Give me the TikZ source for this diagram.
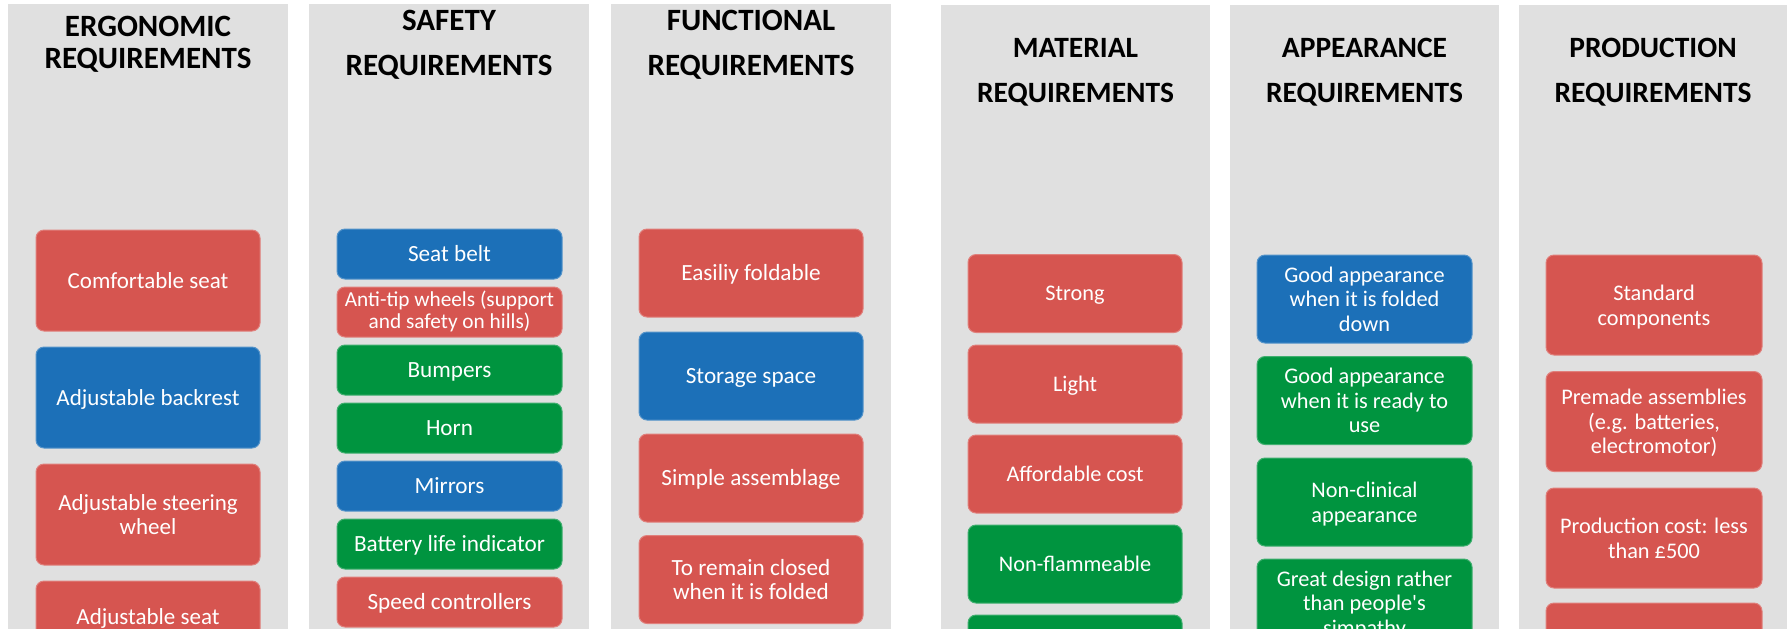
\documentclass[tikz,border=0pt]{standalone}
\usepackage{fontspec}
\setmainfont{Carlito}
\definecolor{panelgray}{RGB}{224,224,224}
\definecolor{boxred}{RGB}{214,85,80}
\definecolor{boxblue}{RGB}{28,112,184}
\definecolor{boxgreen}{RGB}{0,148,63}
\newcommand\topprop{\rule{0pt}{0.87em}}
\newcommand\botprop{\rule[-0.2em]{0pt}{0pt}}
\tikzset{
  panel/.style={fill=panelgray, inner sep=0pt, anchor=north west, minimum height=320pt},
  title/.style={align=center, inner sep=0pt, text=black},
  titleA/.style={title, font=\fontsize{15.5}{16}\selectfont\bfseries},
  titleB/.style={title, font=\fontsize{15.5}{22.5}\selectfont\bfseries},
  titleC/.style={title, font=\fontsize{14.75}{22.5}\selectfont\bfseries},
  req/.style={rounded corners=4pt, line width=0.5pt, text=white, align=center, inner sep=0pt,
    execute at begin node=\topprop, execute at end node=\botprop},
  ml/.style={text depth=-0.6pt},
  rbox/.style={req, fill=boxred, draw=boxred!75!white},
  bbox/.style={req, fill=boxblue, draw=boxblue!75!white},
  gbox/.style={req, fill=boxgreen, draw=boxgreen!75!white},
  colA/.style={minimum width=112pt, minimum height=50.5pt, font=\fontsize{11.5}{12.25}\selectfont},
  colB/.style={minimum width=112.5pt, minimum height=25pt, font=\fontsize{11.6}{12.25}\selectfont},
  colC/.style={minimum width=112pt, minimum height=44pt, font=\fontsize{11.6}{12.25}\selectfont},
  colD/.style={minimum width=107pt, minimum height=39pt, font=\fontsize{11.15}{12.35}\selectfont},
  colE/.style={minimum width=107.5pt, minimum height=44pt, font=\fontsize{11.15}{12.35}\selectfont},
  colF/.style={minimum width=108pt, minimum height=50pt, font=\fontsize{11.15}{12.35}\selectfont},
}
\begin{document}
\begin{tikzpicture}[x=0.5pt,y=-0.5pt]
\useasboundingbox (0,0) rectangle (1787,628);

% background panels, one per category
\node[panel, minimum width=140pt] (p1) at (8,4) {};
\node[panel, minimum width=140pt] (p2) at (309,4) {};
\node[panel, minimum width=140pt] (p3) at (611,4) {};
\node[panel, minimum width=134.5pt] (p4) at (941,5) {};
\node[panel, minimum width=134.5pt] (p5) at (1230,5) {};
\node[panel, minimum width=134.5pt] (p6) at (1519,5) {};

% headings
\node[titleA] (t1) at (148,44) {ERGONOMIC\\REQUIREMENTS};
\node[titleB] (t2) at (449,44.5) {SAFETY\\REQUIREMENTS};
\node[titleB] (t3) at (751,44.5) {FUNCTIONAL\\REQUIREMENTS};
\node[titleC] (t4) at (1075.5,72.5) {MATERIAL\\REQUIREMENTS};
\node[titleC] (t5) at (1364.5,72.5) {APPEARANCE\\REQUIREMENTS};
\node[titleC] (t6) at (1653,72.5) {PRODUCTION\\REQUIREMENTS};

% ergonomic
\node[rbox, colA] (e1) at (148,280.5) {Comfortable seat};
\node[bbox, colA] (e2) at (148,397.5) {Adjustable backrest};
\node[rbox, colA, ml] (e3) at (148,514.5) {Adjustable steering\\wheel};
\node[rbox, colA] (e4) at (148,631.5) {Adjustable seat\\\mbox{}};

% safety
\node[bbox, colB] (s1) at (449.5,254) {Seat belt};
\node[rbox, colB, font=\fontsize{10.65}{10.85}\selectfont] (s2) at (449.5,312) {Anti-tip wheels (support\\and safety on hills)};
\node[gbox, colB] (s3) at (449.5,370) {Bumpers};
\node[gbox, colB] (s4) at (449.5,428) {Horn};
\node[bbox, colB] (s5) at (449.5,486) {Mirrors};
\node[gbox, colB] (s6) at (449.5,544) {Battery life indicator};
\node[rbox, colB] (s7) at (449.5,602) {Speed controllers};

% functional
\node[rbox, colC] (f1) at (751,273) {Easiliy foldable};
\node[bbox, colC] (f2) at (751,376) {Storage space};
\node[rbox, colC] (f3) at (751,478) {Simple assemblage};
\node[rbox, colC, ml] (f4) at (751,579.5) {To remain closed\\when it is folded};

% material
\node[rbox, colD] (m1) at (1075,293.5) {Strong};
\node[rbox, colD] (m2) at (1075,384) {Light};
\node[rbox, colD] (m3) at (1075,474) {Affordable cost};
\node[gbox, colD] (m4) at (1075,564) {Non-flammeable};
\node[gbox, colD] (m5) at (1075,654) {};

% appearance
\node[bbox, colE, ml] (a1) at (1364.5,299) {Good appearance\\when it is folded\\down};
\node[gbox, colE, ml] (a2) at (1364.5,400.5) {Good appearance\\when it is ready to\\use};
\node[gbox, colE, ml] (a3) at (1364.5,502) {Non-clinical\\appearance};
\node[gbox, colE, ml] (a4) at (1364.5,603) {Great design rather\\than people\textquotesingle s\\simpathy};

% production
\node[rbox, colF, ml] (r1) at (1654,305) {Standard\\components};
\node[rbox, colF, ml] (r2) at (1654,421.5) {Premade assemblies\\(e.g. batteries,\\electromotor)};
\node[rbox, colF, ml] (r3) at (1654,538) {Production cost: less\\than £500};
\node[rbox, colF] (r4) at (1654,653) {};
\end{tikzpicture}
\end{document}
